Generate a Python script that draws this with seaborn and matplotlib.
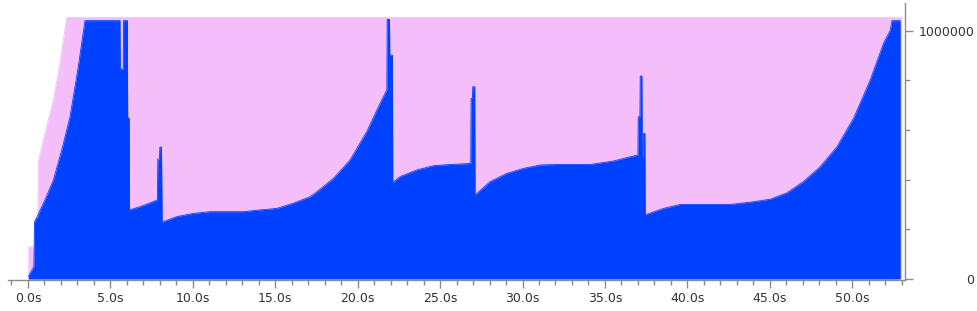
import matplotlib
matplotlib.use("Agg")
import matplotlib.pyplot as plt
import seaborn as sns
from matplotlib.ticker import MultipleLocator, FixedLocator, FuncFormatter

# ---- data (time in seconds, memory in thousands of bytes) ----
# heap capacity (pink)
t_heap = [0.00, 0.36, 0.40, 0.60, 0.63, 0.93, 1.535, 1.94, 2.35, 53.0]
heap_k = [129, 129, 240, 250, 472, 559, 720, 868, 1053, 1053]

# used memory (blue)
t_used = [0.02, 0.36, 0.40, 1.03, 1.54, 2.05, 2.55, 3.05, 3.46,
          5.58, 5.60, 5.78, 5.80, 6.03, 6.05, 6.14, 6.16, 6.80, 7.85,
          7.88, 7.98, 8.00, 8.10, 8.14, 9.02, 10.03, 11.04, 12.06, 13.06,
          14.08, 15.09, 16.10, 17.11, 17.52, 18.53, 19.54, 20.55, 21.36, 21.77,
          21.79, 21.93, 21.95, 22.11, 22.13, 22.57, 23.59, 24.59, 25.61, 26.86,
          26.88, 26.96, 26.98, 27.10, 27.12, 28.03, 29.05, 30.05, 31.07, 32.08,
          33.09, 34.10, 34.51, 35.52, 36.53, 37.00, 37.02, 37.12, 37.14, 37.24,
          37.26, 37.32, 37.34, 37.42, 37.44, 38.55, 39.56, 40.58, 42.60, 44.01,
          45.02, 46.04, 47.04, 48.06, 49.07, 50.08, 51.09, 51.90, 52.31, 52.41,
          52.91]
used_k = [10, 50, 229, 318, 398, 519, 652, 853, 1040,
          1040, 845, 845, 1040, 1040, 648, 648, 278, 291, 318,
          483, 483, 531, 531, 229, 251, 264, 271, 271, 271,
          278, 284, 305, 331, 351, 405, 479, 593, 707, 761,
          1045, 1045, 901, 901, 388, 412, 439, 456, 461, 465,
          727, 727, 774, 774, 338, 392, 425, 445, 459, 461,
          461, 461, 465, 475, 492, 499, 653, 653, 817, 817,
          492, 492, 586, 586, 258, 284, 300, 300, 300, 311,
          321, 347, 392, 452, 532, 647, 801, 949, 1002, 1040,
          1040]

x_ticks = [0, 5, 10, 15, 20, 25, 30, 35, 40, 45, 50]
y_ticks = [0, 1000000]
y_tick_labels = ["0", "1000000"]

PINK = "#F3BEFA"
BLUE = "#0040FF"
GRAY = "#8a8a8a"
TEXT = "#333333"

heap = [v * 1000 for v in heap_k]
used = [v * 1000 for v in used_k]

sns.set_theme(style="ticks")
plt.rcParams["font.family"] = ["DejaVu Sans"]

fig = plt.figure(figsize=(9.77, 3.11), dpi=100)
ax = fig.add_axes([8 / 977, 31 / 311, 897 / 977, 277 / 311])

ax.fill_between(t_heap, heap, color=PINK, linewidth=0)
sns.lineplot(x=t_heap, y=heap, estimator=None, sort=False, color=PINK,
             linewidth=0.6, ax=ax)
ax.fill_between(t_used, used, color=BLUE, linewidth=0)
sns.lineplot(x=t_used, y=used, estimator=None, sort=False, color=BLUE,
             linewidth=0.6, ax=ax)

ax.set_xlim(-1.21, 53.2)
ax.set_ylim(-4000, 1111000)

for s in ["top", "left"]:
    ax.spines[s].set_visible(False)
for s in ["bottom", "right"]:
    ax.spines[s].set_color(GRAY)
    ax.spines[s].set_linewidth(1.0)

ax.xaxis.set_major_locator(FixedLocator(x_ticks))
ax.xaxis.set_minor_locator(MultipleLocator(1))
ax.xaxis.set_major_formatter(FuncFormatter(lambda v, p: f"{v:.1f}s"))

ax.yaxis.tick_right()
ax.yaxis.set_major_locator(FixedLocator(y_ticks))
ax.set_yticklabels(y_tick_labels)
ax.yaxis.set_minor_locator(MultipleLocator(200000))

ax.tick_params(axis="x", which="major", length=6, width=1, color=GRAY,
               labelsize=9, labelcolor=TEXT, pad=3, direction="out")
ax.tick_params(axis="x", which="minor", length=3.5, width=1, color=GRAY,
               direction="out")
ax.tick_params(axis="y", which="major", length=6, width=1, color=GRAY,
               labelsize=9, labelcolor=TEXT, pad=44, direction="out",
               right=True, left=False)
ax.tick_params(axis="y", which="minor", length=3.5, width=1, color=GRAY,
               direction="out", right=True, left=False)
for lbl in ax.get_yticklabels():
    lbl.set_horizontalalignment("right")

ax.set_xlabel("")
ax.set_ylabel("")

fig.savefig("out.png", dpi=100)
